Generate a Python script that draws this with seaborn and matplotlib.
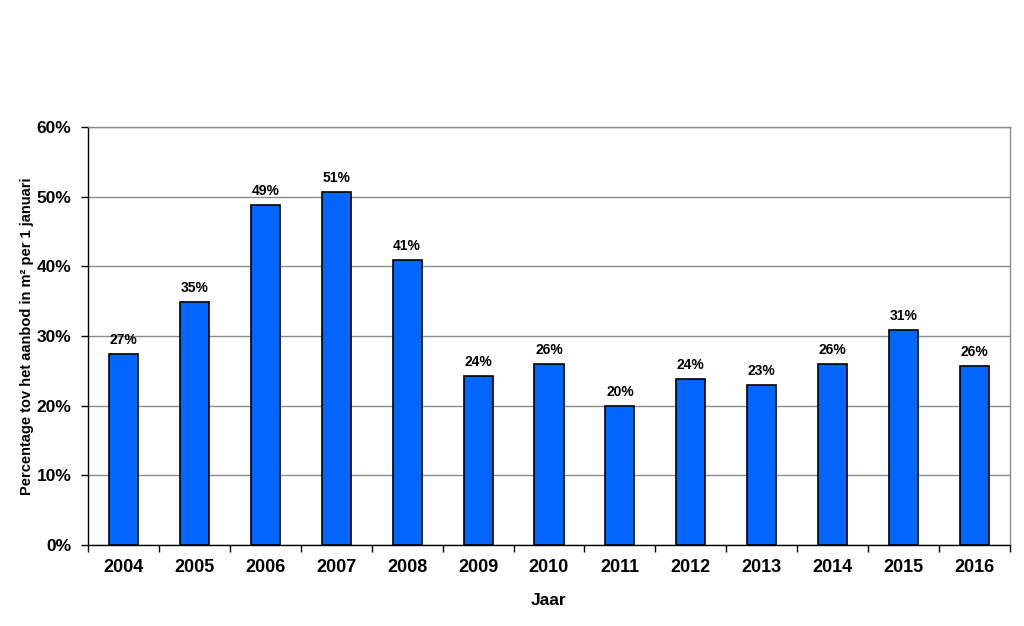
import matplotlib
matplotlib.use("Agg")
import matplotlib.pyplot as plt
import seaborn as sns
import pandas as pd
import numpy as np
from matplotlib.ticker import FixedLocator, PercentFormatter

years = ["2004", "2005", "2006", "2007", "2008", "2009", "2010",
         "2011", "2012", "2013", "2014", "2015", "2016"]
values = [27.4, 34.9, 48.8, 50.7, 40.9, 24.3, 26.0,
          20.0, 23.8, 23.0, 26.0, 30.9, 25.7]
labels = ["27%", "35%", "49%", "51%", "41%", "24%", "26%",
          "20%", "24%", "23%", "26%", "31%", "26%"]
ytick_vals = [0, 10, 20, 30, 40, 50, 60]

sns.set_theme(style="white")
plt.rcParams['font.family'] = ['Liberation Sans', 'DejaVu Sans']
plt.rcParams['text.color'] = 'black'
plt.rcParams['axes.labelcolor'] = 'black'
plt.rcParams['xtick.color'] = 'black'
plt.rcParams['ytick.color'] = 'black'

df = pd.DataFrame({"Jaar": years, "Waarde": values})

fig = plt.figure(figsize=(10.24, 6.26), dpi=100)
ax = fig.add_axes([0.0859, 0.1294, 0.9004, 0.6677])

sns.barplot(data=df, x="Jaar", y="Waarde", color="#0066FF", saturation=1,
            width=0.41, edgecolor="black", linewidth=1.2, ax=ax, zorder=3)

ax.set_ylim(0, 60)
ax.set_xlim(-0.5, len(years) - 0.5)
ax.set_yticks(ytick_vals)
ax.yaxis.set_major_formatter(PercentFormatter(decimals=0))
ax.yaxis.grid(True, color="#8c8c8c", linewidth=1, zorder=0)
ax.set_axisbelow(True)

# ticks between categories
ax.xaxis.set_minor_locator(FixedLocator(np.arange(-0.5, len(years), 1.0)))
ax.tick_params(axis="x", which="major", length=0, pad=10, labelsize=13, labelcolor="black")
ax.tick_params(axis="x", which="minor", length=5, width=1, color="black", direction="out", bottom=True)
ax.tick_params(axis="y", which="major", length=5, width=1, color="black", direction="out",
               left=True, labelsize=12.5, pad=7, labelcolor="black")
for lab in ax.get_xticklabels() + ax.get_yticklabels():
    lab.set_fontweight("bold")

for sp in ["left", "bottom"]:
    ax.spines[sp].set_color("black")
    ax.spines[sp].set_linewidth(1)
for sp in ["top", "right"]:
    ax.spines[sp].set_color("#8c8c8c")
    ax.spines[sp].set_linewidth(1)

for i, (v, t) in enumerate(zip(values, labels)):
    ax.annotate(t, (i, v), xytext=(0, 5), textcoords="offset points",
                ha="center", va="bottom", fontsize=10, fontweight="bold", color="black")

ax.set_xlabel("Jaar", fontsize=12.5, fontweight="bold", labelpad=12, color="black")
ax.set_ylabel("Percentage tov het aanbod in m² per 1 januari", fontsize=10.5,
              fontweight="bold", labelpad=2, color="black")

fig.savefig("out.png", dpi=100)
